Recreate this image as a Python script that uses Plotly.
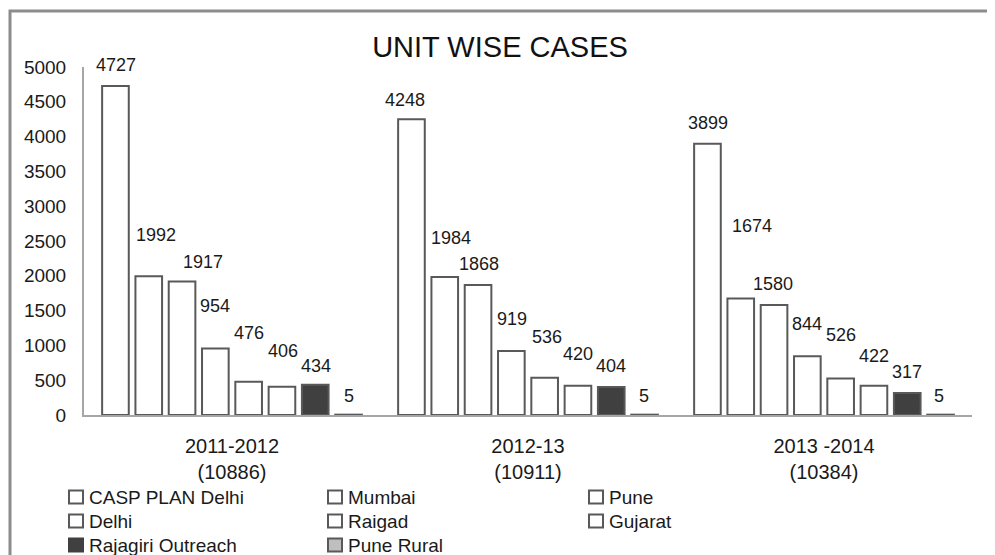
import plotly.graph_objects as go

categories = ["2011-2012<br>(10886)", "2012-13<br>(10911)", "2013 -2014<br>(10384)"]
series_names = ["CASP PLAN Delhi", "Mumbai", "Pune", "Delhi", "Raigad", "Gujarat",
                "Rajagiri Outreach", "Pune Rural"]
casp_plan_delhi = [4727, 4248, 3899]
mumbai = [1992, 1984, 1674]
pune = [1917, 1868, 1580]
delhi = [954, 919, 844]
raigad = [476, 536, 526]
gujarat = [406, 420, 422]
rajagiri_outreach = [434, 404, 317]
pune_rural = [5, 5, 5]
series_values = [casp_plan_delhi, mumbai, pune, delhi, raigad, gujarat,
                 rajagiri_outreach, pune_rural]
y_ticks = [0, 500, 1000, 1500, 2000, 2500, 3000, 3500, 4000, 4500, 5000]

fills = ["white", "white", "white", "white", "white", "white", "#404040", "#bfbfbf"]
outline = "#595959"

# label offsets (pixels) replicating the reference's adjusted label placement
label_yshift = [
    [21, 19, 21],
    [41, 39, 72],
    [20, 21, 21],
    [43, 32, 32],
    [49, 41, 43],
    [36, 32, 30],
    [19, 21, 21],
    [19, 19, 19],
]
label_xshift = [
    [1, -6, 1],
    [7, 6, 11],
    [21, 1, -1],
    [0, 1, 0],
    [0, 2, 0],
    [1, 0, 0],
    [1, 0, 0],
    [0, -1, -2],
]

# figure geometry (page shows the figure offset by the 8px body margin)
W, H = 995, 555
ML, MR, MT, MB = 76, 31, 59, 148
PW, PH = W - ML - MR, H - MT - MB


def px(x):
    return (x - ML) / PW


def py(y):
    return (H - MB - y) / PH


bargap = 0.1
n = len(series_names)
slot = (1 - bargap) / n

fig = go.Figure()
annotations = []
shapes = [dict(type="rect", xref="paper", yref="paper",
               x0=px(2), x1=px(982), y0=py(600), y1=py(3),
               line=dict(color="#8c8c8c", width=3), fillcolor="rgba(0,0,0,0)", layer="below")]

for j, (name, vals) in enumerate(zip(series_names, series_values)):
    fig.add_trace(go.Bar(
        name=name, x=list(range(len(categories))), y=vals,
        marker=dict(color=fills[j], line=dict(color=outline, width=2)),
        hoverinfo="y+name", showlegend=False,
    ))
    for i, v in enumerate(vals):
        annotations.append(dict(
            x=i + (j - (n - 1) / 2) * slot, y=v, xref="x", yref="y",
            text=str(v), showarrow=False, xanchor="center", yanchor="middle",
            yshift=label_yshift[j][i], xshift=label_xshift[j][i],
            font=dict(family="Liberation Sans, Arial, sans-serif", size=18, color="#1a1a1a"),
        ))

# legend drawn as three columns
col_x = [61, 320, 581]
row_y = [489, 513, 537]
for j, name in enumerate(series_names):
    cx = col_x[j % 3]
    cy = row_y[j // 3]
    shapes.append(dict(type="rect", xref="paper", yref="paper",
                       x0=px(cx), x1=px(cx + 14), y0=py(cy + 6.5), y1=py(cy - 6.5),
                       line=dict(color=outline if j != 6 else "#404040", width=2),
                       fillcolor=fills[j]))
    annotations.append(dict(x=px(cx + 18), y=py(cy), xref="paper", yref="paper",
                            text=name, showarrow=False, xanchor="left", yanchor="middle",
                            font=dict(family="Liberation Sans, Arial, sans-serif", size=19,
                                      color="#1a1a1a")))

fig.update_layout(
    width=W, height=H,
    margin=dict(l=ML, r=MR, t=MT, b=MB, autoexpand=False),
    paper_bgcolor="white", plot_bgcolor="white",
    barmode="group", bargap=bargap, bargroupgap=0.2,
    title=dict(text="UNIT WISE CASES", x=0.4945, xanchor="center", y=0.93, yanchor="middle",
               font=dict(family="Liberation Sans, Arial, sans-serif", size=29, color="#111111")),
    font=dict(family="Liberation Sans, Arial, sans-serif", color="#1a1a1a"),
    xaxis=dict(tickmode="array", tickvals=list(range(len(categories))), ticktext=categories,
               range=[-0.5, len(categories) - 0.5],
               showline=True, linecolor="#a6a6a6", linewidth=2, showgrid=False, zeroline=False,
               ticks="", tickfont=dict(size=20, color="#1a1a1a"), ticklabelstandoff=12),
    yaxis=dict(range=[0, 5000], tickmode="array", tickvals=y_ticks,
               showline=True, linecolor="#a6a6a6", linewidth=2, showgrid=False, zeroline=False,
               ticks="", tickfont=dict(size=19, color="#1a1a1a"), ticklabelstandoff=12),
    annotations=annotations,
    shapes=shapes,
    showlegend=False,
)

fig.write_html("out.html")
